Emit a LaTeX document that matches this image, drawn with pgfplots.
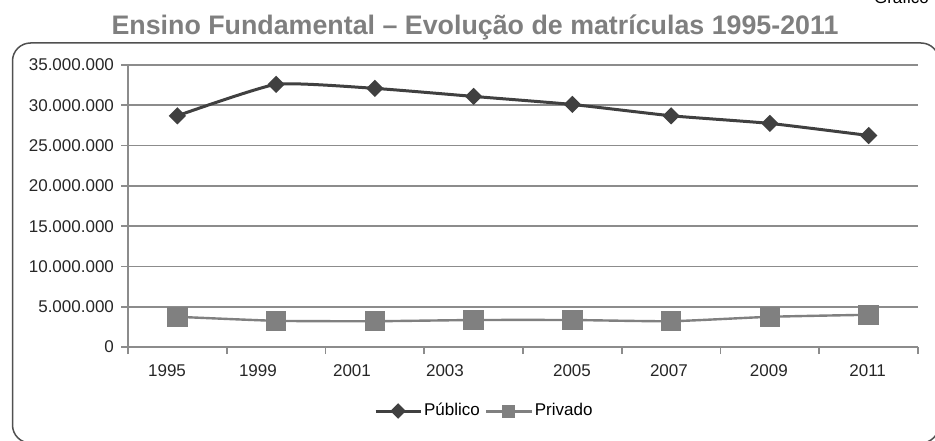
\documentclass[border=0pt]{standalone}
\usepackage{fontspec}
\setmainfont{Liberation Sans}
\usepackage{pgfplots}
\pgfplotsset{compat=1.18}

\definecolor{pubcol}{HTML}{404040}
\definecolor{privcol}{HTML}{808080}
\definecolor{gridcol}{HTML}{8C8C8C}
\definecolor{framecol}{HTML}{505050}
\definecolor{titlecol}{HTML}{7F7F7F}

% legend samples: line with a small mark in the middle
\pgfplotsset{
    publeg/.style={legend image code/.code={\draw[##1, mark size=2pt, mark repeat=2, mark phase=2]
        plot coordinates {(0pt,0pt) (11.25pt,0pt) (22.5pt,0pt)};}},
    privleg/.style={legend image code/.code={\draw[##1, line width=1.5pt, mark size=2.5pt, mark repeat=2, mark phase=2]
        plot coordinates {(0pt,0pt) (11.25pt,0pt) (22.5pt,0pt)};}},
}

\begin{document}
\begin{tikzpicture}[x=1pt,y=1pt]
\path[use as bounding box] (0,0) rectangle (467.5,220);
% frame and titles
\draw[rounded corners=9pt, color=framecol, line width=0.75pt] (6.25,-1.5) rectangle (469.5,198.5);
\node[anchor=base, font=\bfseries\fontsize{13.4}{16}\selectfont, text=titlecol] at (237.5,202.5)
  {Ensino Fundamental – Evolução de matrículas 1995-2011};
\node[anchor=base west, font=\fontsize{8.5}{10}\selectfont] at (433.5,218) {Gráfico};

\begin{axis}[
    at={(64pt,46.5pt)}, anchor=south west,
    width=395pt, height=141pt, scale only axis,
    xmin=-0.5, xmax=7.5,
    ymin=0, ymax=35000000,
    axis x line*=bottom, axis y line*=left,
    axis line style={color=gridcol, line width=0.9pt},
    ymajorgrids=true,
    grid style={color=gridcol, line width=0.9pt},
    tick align=outside,
    major tick length=3.5pt,
    tick style={color=gridcol, line width=0.9pt},
    ytick={0,5000000,10000000,15000000,20000000,25000000,30000000,35000000},
    xtick={-0.5,0.5,1.5,2.5,3.5,4.5,5.5,6.5,7.5},
    xticklabels={,,,,,,,,},
    extra x ticks={-0.105,0.816,1.768,2.71,3.996,4.978,5.99,6.99},
    extra x tick labels={1995,1999,2001,2003,2005,2007,2009,2011},
    extra x tick style={major tick length=0pt, xticklabel style={yshift=-5.5pt}},
    ticklabel style={font=\fontsize{8.5}{10}\selectfont, text=black!85},
    /pgf/number format/assume math mode=true,
    scaled y ticks=false,
    yticklabel style={/pgf/number format/.cd, fixed, precision=0, 1000 sep={.}},
    clip=false,
    legend columns=2,
    legend style={at={(0.451,-0.227)}, anchor=center, draw=none, fill=none,
        font=\fontsize{8.5}{10}\selectfont,
        nodes={inner xsep=1pt},
        /tikz/every even column/.append style={column sep=1.5pt}},
]
\addplot[color=pubcol, line width=1.5pt, smooth, tension=0.3,
    mark=square*, mark size=2.3pt,
    mark options={solid, rotate=45, fill=pubcol, draw=pubcol}, publeg]
    coordinates {
        (0,28700000)(1,32600000)(2,32100000)(3,31100000)
        (4,30100000)(5,28700000)(6,27750000)(7,26250000)
    };
\addlegendentry{Público}

\addplot[color=privcol, line width=1.2pt, smooth, tension=0.3,
    mark=square*, mark size=4.5pt,
    mark options={solid, fill=privcol, draw=privcol}, privleg]
    coordinates {
        (0,3750000)(1,3250000)(2,3200000)(3,3350000)
        (4,3350000)(5,3200000)(6,3750000)(7,4000000)
    };
\addlegendentry{Privado}
\end{axis}
\end{tikzpicture}
\end{document}
